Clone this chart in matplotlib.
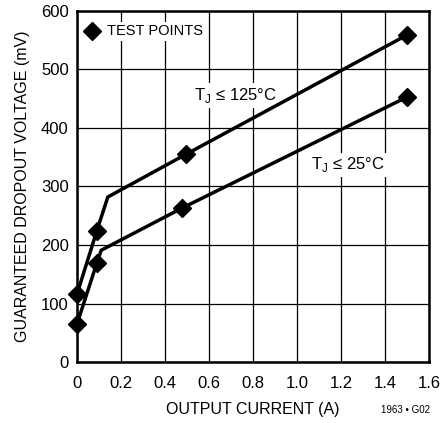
import matplotlib
matplotlib.use("Agg")
import matplotlib.pyplot as plt

plt.rcParams['font.family'] = ['Liberation Sans Narrow', 'Liberation Sans', 'DejaVu Sans']

# dropout curves (kink point has no marker)
x_hot = [0.0, 0.09, 0.14, 0.495, 1.5]
y_hot = [116, 224, 282, 355, 559]
x_cold = [0.0, 0.09, 0.11, 0.477, 1.5]
y_cold = [65, 169, 191, 263, 453]
# test points
tp_x_hot = [0.0, 0.09, 0.495, 1.5]
tp_y_hot = [116, 224, 355, 559]
tp_x_cold = [0.0, 0.09, 0.477, 1.5]
tp_y_cold = [65, 169, 263, 453]

xticks = [0, 0.2, 0.4, 0.6, 0.8, 1.0, 1.2, 1.4, 1.6]
xticklabels = ["0", "0.2", "0.4", "0.6", "0.8", "1.0", "1.2", "1.4", "1.6"]
yticks = [0, 100, 200, 300, 400, 500, 600]

fig = plt.figure(figsize=(4.4, 4.23), dpi=100)
ax = fig.add_axes([77 / 440, 1 - 362 / 423, 352 / 440, 351 / 423])

ax.plot(x_hot, y_hot, color="black", lw=2.5, zorder=3)
ax.plot(x_cold, y_cold, color="black", lw=2.5, zorder=3)
ax.plot(tp_x_hot, tp_y_hot, "D", color="black", ms=9, zorder=4, clip_on=False)
ax.plot(tp_x_cold, tp_y_cold, "D", color="black", ms=9, zorder=4, clip_on=False)

ax.set_xlim(0, 1.6)
ax.set_ylim(0, 600)
ax.set_xticks(xticks)
ax.set_xticklabels(xticklabels)
ax.set_yticks(yticks)
ax.tick_params(length=0, labelsize=12, pad=6)
ax.tick_params(axis="x", pad=10)
ax.grid(True, color="black", lw=0.9)
ax.set_axisbelow(True)
for s in ax.spines.values():
    s.set_linewidth(1.8)

ax.set_xlabel("OUTPUT CURRENT (A)", fontsize=11.5, labelpad=8)
ax.set_ylabel("GUARANTEED DROPOUT VOLTAGE (mV)", fontsize=11.5, labelpad=8)

# legend
ax.plot([0.068], [565], "D", color="black", ms=9, zorder=4)
ax.text(0.135, 565, "TEST POINTS", fontsize=10.5, va="center", ha="left", zorder=2.5,
        bbox=dict(facecolor="white", edgecolor="none", pad=2))

ax.text(0.718, 456, r"T$_\mathregular{J}$ ≤ 125°C", fontsize=12, ha="center", va="center", zorder=2.5,
        bbox=dict(facecolor="white", edgecolor="none", pad=2))
ax.text(1.232, 337, r"T$_\mathregular{J}$ ≤ 25°C", fontsize=12, ha="center", va="center", zorder=2.5,
        bbox=dict(facecolor="white", edgecolor="none", pad=2))

fig.text(405 / 440, 1 - 410 / 423, "1963 • G02", fontsize=7, ha="center", va="center")

fig.savefig("out.png", dpi=100)
